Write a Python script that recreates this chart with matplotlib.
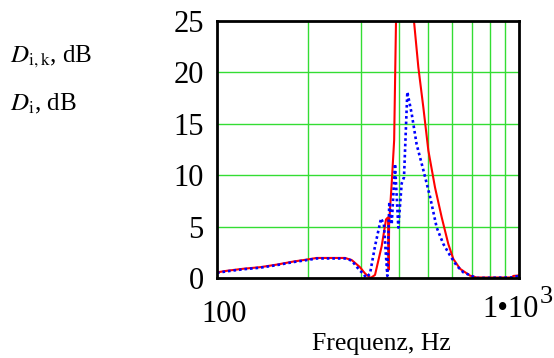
import matplotlib
matplotlib.use("Agg")
import matplotlib.pyplot as plt

# ---- data ----
freq_red = [100, 107.7, 122.2, 138.8, 157.6, 179, 199, 213.8, 265.3, 279.2,
            297.5, 309, 313, 322.8, 333.6, 351, 362.8, 368.4, 370.2, 371.5,
            379, 386, 391.5, 420, 449, 464.2, 482.2, 501, 527.2, 554.7,
            583.4, 606.1, 637.7, 688.3, 724.1, 945.6, 957.8, 1000]
d_ik = [0.55, 0.7, 0.9, 1.05, 1.3, 1.6, 1.8, 1.95, 1.95, 1.75,
        1.05, 0.45, 0.3, 0.0, 0.3, 3.1, 5.7, 5.9, 0.8, 5.3,
        9.3, 13.4, 25, 40, 25, 20.5, 16.6, 12.4, 8.8, 5.9,
        3.3, 1.85, 0.9, 0.23, 0.05, 0.05, 0.2, 0.25]

freq_blue = [100, 107.7, 122.2, 138.8, 157.6, 179, 199, 213.8, 265.3, 279.2,
             297.5, 305, 311, 321, 333.6, 349.3, 357, 366.4, 372, 378.8,
             388.6, 398.5, 408.8, 416.1, 426.8, 441.1, 458.2, 482.2, 507.5, 534,
             561.8, 590.9, 621.7, 654.2, 697.1, 724.1, 945.6, 957.8, 1000]
d_i = [0.5, 0.65, 0.85, 1.0, 1.25, 1.55, 1.75, 1.9, 1.9, 1.7,
       0.7, 0.45, 0.05, 0.4, 3.1, 5.8, 5.2, 0.2, 7.4, 5.2,
       11.1, 4.9, 9.2, 9.8, 18.1, 16.0, 13.0, 10.5, 7.9, 4.9,
       3.3, 2.2, 1.2, 0.55, 0.2, 0.0, 0.05, 0.1, 0.2]

xtick_vals = [100, 1000]
ytick_vals = [0, 5, 10, 15, 20, 25]
grid_x = [200, 300, 400, 500, 600, 700, 800, 900]
grid_y = [5, 10, 15, 20]

plt.rcParams["font.family"] = ["Liberation Serif", "DejaVu Serif"]
plt.rcParams["mathtext.fontset"] = "stix"

W, H = 554, 358
fig = plt.figure(figsize=(W / 100, H / 100), dpi=100)
ax = fig.add_axes([217 / W, 1 - 278 / H, (519 - 217) / W, (278 - 21) / H])

ax.set_xscale("log")
ax.set_xlim(100, 1000)
ax.set_ylim(0, 25)

for g in grid_x:
    ax.axvline(g, color="#33dd33", lw=1.0, zorder=1)
for g in grid_y:
    ax.axhline(g, color="#33dd33", lw=1.0, zorder=1)

ax.plot(freq_red, d_ik, color="#ff0000", lw=1.5, zorder=3)
ax.plot(freq_blue, d_i, color="#0000ff", lw=1.9, linestyle=(0, (1, 1.1)), zorder=4)

ax.minorticks_off()
ax.set_xticks(xtick_vals)
ax.set_xticklabels(["", ""])
ax.set_yticks(ytick_vals)
ax.set_yticklabels([str(v) for v in ytick_vals])
ax.tick_params(axis="both", length=0, labelsize=22)
ax.tick_params(axis="y", pad=9.5)
for s in ax.spines.values():
    s.set_linewidth(2)
    s.set_color("black")
    s.set_zorder(5)

def px(x, y):
    return x / W, 1 - y / H

# x tick labels (MathCAD style)
fig.text(*px(224, 322), "100", fontsize=22, ha="center", va="baseline")
fig.text(*px(482, 317), "1\u202210", fontsize=22, ha="left", va="baseline")
fig.text(*px(540, 303), "3", fontsize=19, ha="left", va="baseline")

fig.text(*px(312, 350), "Frequenz, Hz", fontsize=18.5, ha="left", va="baseline")
fig.text(*px(10, 62), r"$D_{\mathrm{i,k}}$, dB", fontsize=18, ha="left", va="baseline")
fig.text(*px(10, 110), r"$D_{\mathrm{i}}$, dB", fontsize=18, ha="left", va="baseline")

fig.savefig("out.png", dpi=100)
